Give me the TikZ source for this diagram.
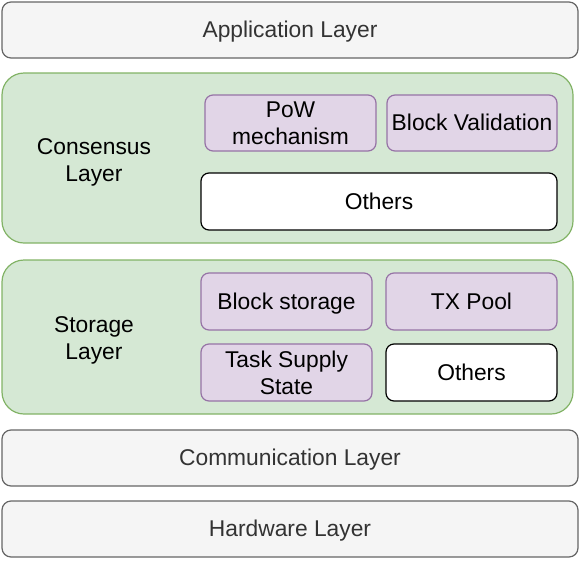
\documentclass[tikz,border=0pt]{standalone}
\usepackage{fontspec}
\setmainfont{Liberation Sans}
\definecolor{grayfill}{HTML}{F5F5F5}
\definecolor{graydraw}{HTML}{666666}
\definecolor{graytext}{HTML}{333333}
\definecolor{greenfill}{HTML}{D5E8D4}
\definecolor{greendraw}{HTML}{82B366}
\definecolor{purpfill}{HTML}{E1D5E7}
\definecolor{purpdraw}{HTML}{9673A6}
\begin{document}
\begin{tikzpicture}[x=1pt,y=-1pt,
  every node/.style={font=\fontsize{22.8}{27}\selectfont, inner sep=0pt, outer sep=0pt, align=center},
  oneline/.style={text height=20pt, text depth=4.6pt},
  graylayer/.style={oneline, draw=graydraw, fill=grayfill, text=graytext, rounded corners=9pt, line width=1.2pt, minimum width=576pt, minimum height=56pt},
  greenlayer/.style={draw=greendraw, fill=greenfill, rounded corners=22pt, line width=1.2pt, minimum width=571pt},
  purpbox/.style={draw=purpdraw, fill=purpfill, rounded corners=8pt, line width=1.2pt, minimum height=56pt},
  whitebox/.style={oneline, draw=black, fill=white, rounded corners=8pt, line width=1.2pt, minimum height=57pt},
  lbl/.style={text=black}
]
\useasboundingbox (0,0) rectangle (581,560);
\node[graylayer] (app) at (290,30) {Application Layer};
\node[greenlayer, minimum height=170pt] (cons) at (287.5,158) {};
\node[lbl] (conslbl) at (94,162) {Consensus\\Layer};
\node[purpbox, minimum width=171pt] (pow) at (290.5,123) {PoW\\mechanism};
\node[purpbox, oneline, minimum width=170pt] (bv) at (472,123) {Block Validation};
\node[whitebox, minimum width=356pt] (oth1) at (379,201.5) {Others};
\node[greenlayer, minimum height=154pt] (stor) at (287.5,337) {};
\node[lbl] (storlbl) at (94,340) {Storage\\Layer};
\node[purpbox, oneline, minimum width=171pt, minimum height=57pt] (bs) at (286.5,301.5) {Block storage};
\node[purpbox, oneline, minimum width=171pt, minimum height=57pt] (tx) at (471.5,301.5) {TX Pool};
\node[purpbox, minimum width=171pt, minimum height=57pt] (tss) at (286.5,372.5) {Task Supply\\State};
\node[whitebox, minimum width=171pt] (oth2) at (471.5,372.5) {Others};
\node[graylayer] (comm) at (290,458) {Communication Layer};
\node[graylayer] (hw) at (290,529) {Hardware Layer};
\end{tikzpicture}
\end{document}
